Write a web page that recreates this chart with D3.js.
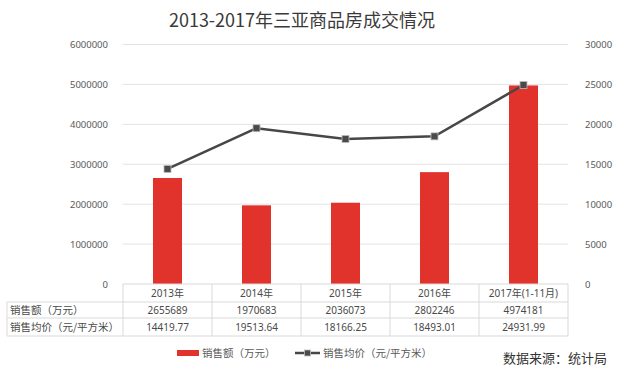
<!DOCTYPE html>
<html>
<head>
<meta charset="utf-8">
<script src="https://cdn.jsdelivr.net/npm/d3@7"></script>
<style>
  body { margin: 0; background: #fff; }
  svg { display: block; font-family: "Noto Sans CJK SC", "Noto Sans", sans-serif; }
</style>
</head>
<body>
<svg id="chart" width="640" height="372"></svg>
<script>
// data
var years = ["2013年", "2014年", "2015年", "2016年", "2017年(1-11月)"];
var sales = [2655689, 1970683, 2036073, 2802246, 4974181];
var prices = [14419.77, 19513.64, 18166.25, 18493.01, 24931.99];
var priceText = ["14419.77", "19513.64", "18166.25", "18493.01", "24931.99"];
var leftTicks = [0, 1000000, 2000000, 3000000, 4000000, 5000000, 6000000];
var rightTicks = [0, 5000, 10000, 15000, 20000, 25000, 30000];
var rowNames = ["销售额（万元）", "销售均价（元/平方米）"];

var barColor = "#e2322c";
var lineColor = "#474747";

var svg = d3.select("#chart");
var plotLeft = 123, plotRight = 568, plotTop = 44.5, plotBottom = 284;

var x = d3.scaleBand().domain(years).range([plotLeft, plotRight]);
var yL = d3.scaleLinear().domain([0, 6000000]).range([plotBottom, plotTop]);
var yR = d3.scaleLinear().domain([0, 30000]).range([plotBottom, plotTop]);

// title
svg.append("text")
  .attr("x", 302).attr("y", 27)
  .attr("text-anchor", "middle")
  .style("font-size", "18px")
  .style("fill", "#3a3a3a")
  .text("2013-2017年三亚商品房成交情况");

// grid lines
svg.append("g").selectAll("line")
  .data(leftTicks.slice(1))
  .join("line")
  .attr("x1", plotLeft).attr("x2", plotRight)
  .attr("y1", d => yL(d)).attr("y2", d => yL(d))
  .style("stroke", "#e3e3e3")
  .style("stroke-width", 1);

// left axis
var axL = svg.append("g")
  .attr("transform", "translate(" + (plotLeft - 12) + ",0)")
  .call(d3.axisLeft(yL).tickValues(leftTicks).tickSize(0).tickFormat(d3.format("d")));
axL.select(".domain").remove();
axL.selectAll("text").style("font-size", "9.5px").style("fill", "#595959").style("font-family", "Noto Sans, sans-serif");

// right axis
var axR = svg.append("g")
  .attr("transform", "translate(" + (plotRight + 14) + ",0)")
  .call(d3.axisRight(yR).tickValues(rightTicks).tickSize(0).tickFormat(d3.format("d")));
axR.select(".domain").remove();
axR.selectAll("text").style("font-size", "9.5px").style("fill", "#595959").style("font-family", "Noto Sans, sans-serif");

// bars
var barW = 29;
svg.append("g").selectAll("rect")
  .data(sales)
  .join("rect")
  .attr("x", (d, i) => x(years[i]) + x.bandwidth() / 2 - barW / 2)
  .attr("y", d => yL(d))
  .attr("width", barW)
  .attr("height", d => plotBottom - yL(d))
  .style("fill", barColor);

// price line
var line = d3.line()
  .x((d, i) => x(years[i]) + x.bandwidth() / 2)
  .y(d => yR(d));
svg.append("path")
  .datum(prices)
  .attr("d", line)
  .style("fill", "none")
  .style("stroke", lineColor)
  .style("stroke-width", 2.5);
svg.append("g").selectAll("rect")
  .data(prices)
  .join("rect")
  .attr("x", (d, i) => x(years[i]) + x.bandwidth() / 2 - 3.5)
  .attr("y", d => yR(d) - 3.5)
  .attr("width", 7).attr("height", 7)
  .style("fill", "#4a4a4a")
  .style("stroke", "#bdbdbd")
  .style("stroke-width", 0.8);

// data table
var tableLeft = 7;
var rowY = [plotBottom, 302, 318, 336];
var tbl = svg.append("g").style("stroke", "#d9d9d9").style("stroke-width", 1);
// horizontal lines
tbl.selectAll("line.h")
  .data(rowY)
  .join("line")
  .attr("class", "h")
  .attr("x1", (d, i) => i == 0 ? plotLeft : tableLeft)
  .attr("x2", plotRight)
  .attr("y1", d => d).attr("y2", d => d);
// vertical lines
var colEdges = years.map(d => x(d)).concat([plotRight]);
tbl.selectAll("line.v")
  .data(colEdges)
  .join("line")
  .attr("class", "v")
  .attr("x1", d => d).attr("x2", d => d)
  .attr("y1", plotBottom).attr("y2", rowY[3]);
tbl.append("line")
  .attr("x1", tableLeft).attr("x2", tableLeft)
  .attr("y1", rowY[1]).attr("y2", rowY[3]);

var cellStyle = function (sel) {
  sel.attr("text-anchor", "middle")
    .style("font-size", "10px")
    .style("fill", "#4a4a4a")
    .style("font-family", "Noto Sans, Noto Sans CJK SC, sans-serif");
};
svg.append("g").selectAll("text")
  .data(years)
  .join("text")
  .attr("x", d => x(d) + x.bandwidth() / 2)
  .attr("y", (rowY[0] + rowY[1]) / 2 + 4)
  .call(cellStyle)
  .text(d => d);
svg.append("g").selectAll("text")
  .data(sales)
  .join("text")
  .attr("x", (d, i) => x(years[i]) + x.bandwidth() / 2)
  .attr("y", (rowY[1] + rowY[2]) / 2 + 4)
  .call(cellStyle)
  .text(d => d);
svg.append("g").selectAll("text")
  .data(priceText)
  .join("text")
  .attr("x", (d, i) => x(years[i]) + x.bandwidth() / 2)
  .attr("y", (rowY[2] + rowY[3]) / 2 + 4)
  .call(cellStyle)
  .text(d => d);
svg.append("g").selectAll("text")
  .data(rowNames)
  .join("text")
  .attr("x", tableLeft + 3)
  .attr("y", (d, i) => (rowY[i + 1] + rowY[i + 2]) / 2 + 4)
  .style("font-size", "10.5px")
  .style("fill", "#4a4a4a")
  .text(d => d);

// legend
var lg = svg.append("g");
lg.append("rect")
  .attr("x", 177).attr("y", 350).attr("width", 22).attr("height", 6)
  .style("fill", barColor);
lg.append("text")
  .attr("x", 202).attr("y", 357)
  .style("font-size", "10.5px").style("fill", "#595959")
  .text("销售额（万元）");
lg.append("line")
  .attr("x1", 295).attr("x2", 320).attr("y1", 353).attr("y2", 353)
  .style("stroke", lineColor).style("stroke-width", 2.5);
lg.append("rect")
  .attr("x", 304.5).attr("y", 350).attr("width", 6).attr("height", 6)
  .style("fill", "#4a4a4a").style("stroke", "#bdbdbd").style("stroke-width", 0.8);
lg.append("text")
  .attr("x", 323).attr("y", 357)
  .style("font-size", "10.5px").style("fill", "#595959")
  .text("销售均价（元/平方米）");

// source note
svg.append("text")
  .attr("x", 607).attr("y", 363)
  .attr("text-anchor", "end")
  .style("font-size", "13px")
  .style("fill", "#333")
  .text("数据来源：统计局");
</script>
</body>
</html>
